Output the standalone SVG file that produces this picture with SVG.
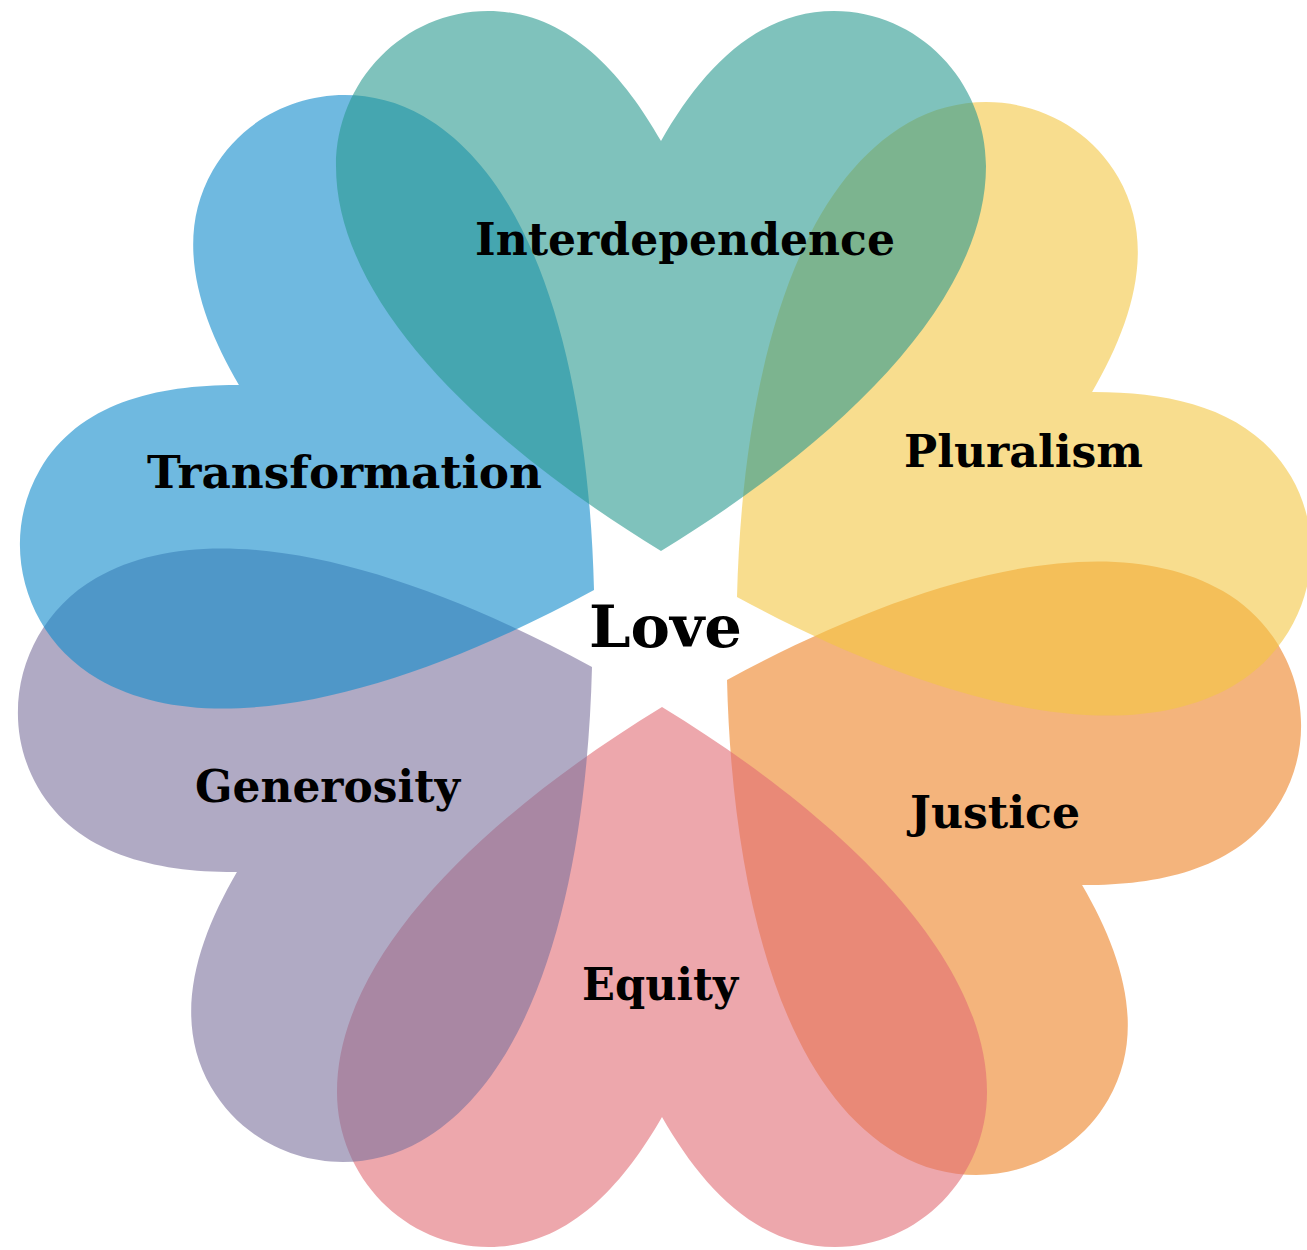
<svg xmlns="http://www.w3.org/2000/svg" xmlns:xlink="http://www.w3.org/1999/xlink" width="1307" height="1250" viewBox="0 0 1307 1250">
  <style>
    .heart { fill-opacity: 0.6; stroke: none; }
    .label { font-family: "DejaVu Serif", "Liberation Serif", serif; font-weight: bold; font-size: 44px; fill: #000; }
    .center { font-size: 58px; }
  </style>
  <defs>
    <path id="heartShape" d="M0,0 C180,-110 325,-250 325,-385 C325,-470 257,-540 173,-540 C95,-540 40,-480 0,-410 C-40,-480 -95,-540 -173,-540 C-257,-540 -325,-470 -325,-385 C-325,-250 -180,-110 0,0 Z"/>
  </defs>
  <rect width="1307" height="1250" fill="#ffffff"/>
  <g id="justice">
    <use xlink:href="#heartShape" href="#heartShape" class="heart" fill="#ed8225" transform="translate(727,680) rotate(120)"/>
  </g>
  <g id="equity">
    <use xlink:href="#heartShape" href="#heartShape" class="heart" fill="#e16c75" transform="translate(662,707) rotate(180)"/>
  </g>
  <g id="generosity">
    <use xlink:href="#heartShape" href="#heartShape" class="heart" fill="#7b719d" transform="translate(592,667) rotate(240)"/>
  </g>
  <g id="transformation">
    <use xlink:href="#heartShape" href="#heartShape" class="heart" fill="#0f8acb" transform="translate(594,590) rotate(300)"/>
  </g>
  <g id="pluralism">
    <use xlink:href="#heartShape" href="#heartShape" class="heart" fill="#f3c643" transform="translate(737,597) rotate(60)"/>
  </g>
  <g id="interdependence">
    <use xlink:href="#heartShape" href="#heartShape" class="heart" fill="#2a998f" transform="translate(661,551)"/>
  </g>
  <g id="labels">
    <text id="label-interdependence" class="label" x="475" y="255" textLength="420" lengthAdjust="spacingAndGlyphs">Interdependence</text>
    <text id="label-pluralism" class="label" x="904" y="467" textLength="239" lengthAdjust="spacingAndGlyphs">Pluralism</text>
    <text id="label-transformation" class="label" x="147" y="488" textLength="395" lengthAdjust="spacingAndGlyphs">Transformation</text>
    <text id="label-generosity" class="label" x="195" y="802" textLength="265" lengthAdjust="spacingAndGlyphs">Generosity</text>
    <text id="label-justice" class="label" x="910" y="828" textLength="170" lengthAdjust="spacingAndGlyphs">Justice</text>
    <text id="label-equity" class="label" x="582" y="1000" textLength="156" lengthAdjust="spacingAndGlyphs">Equity</text>
    <text id="label-love" class="label center" x="589" y="647" textLength="153" lengthAdjust="spacingAndGlyphs">Love</text>
  </g>
</svg>
